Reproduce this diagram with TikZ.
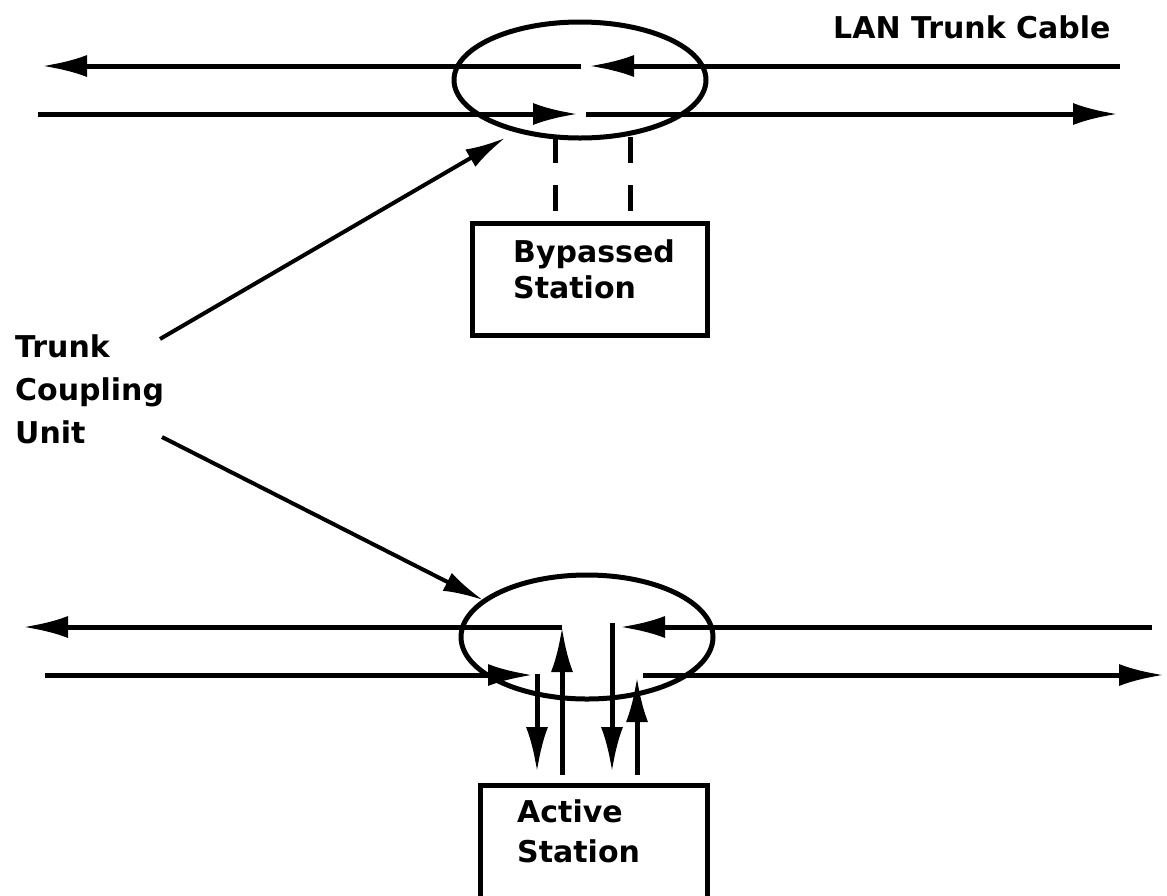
\documentclass[tikz,border=0pt]{standalone}
\usepackage{fontspec}
\setmainfont{DejaVu Sans}
\usetikzlibrary{arrows.meta,shapes.geometric}
\begin{document}
\begin{tikzpicture}[x=1pt,y=-1pt,
  wire/.style={line width=5pt},
  arr/.style={wire,-{Latex[length=45pt,width=22pt]}},
  tcu/.style={ellipse,draw,line width=5pt,inner sep=0pt,minimum width=252pt,minimum height=#1},
  stationbox/.style={draw,line width=5pt,rectangle,inner sep=0pt},
  dashwire/.style={line width=5pt,dash pattern=on 26pt off 22pt},
  lbl/.style={font=\bfseries\fontsize{30}{43}\selectfont,inner sep=0pt}
]
\useasboundingbox (0,0) rectangle (1167,895);

% ---------- top: bypassed station ----------
\node[tcu=116pt] (tcuA) at (580,80) {};
\coordinate (ulR) at (1120,66);
\coordinate (ulM) at (589,66);
\coordinate (ulMa) at (581,66);
\coordinate (ulL) at (42,66);
\coordinate (llL) at (38,114);
\coordinate (llM) at (578,114);
\coordinate (llMa) at (586,114);
\coordinate (llR) at (1118,114);
\draw[arr] (ulR) -- (ulM);
\draw[arr] (ulMa) -- (ulL);
\draw[arr] (llL) -- (llM);
\draw[arr] (llMa) -- (llR);

\node[stationbox,minimum width=235pt,minimum height=112pt] (byp) at (589.5,279) {};
\node[lbl,font=\bfseries\fontsize{30}{36}\selectfont,anchor=base west,align=left] (byptxt) at (513,298) {Bypassed\\Station};
\draw[dashwire] (555,137) -- (555,223);
\draw[dashwire] (630,137) -- (630,223);

\node[lbl,anchor=base west] (lan) at (833,38) {LAN Trunk Cable};

% ---------- label ----------
\node[lbl,anchor=west,align=left] (tcutxt) at (15,389) {Trunk\\Coupling\\Unit};
\coordinate (p1) at (160,339);
\coordinate (q1) at (505,138);
\coordinate (p2) at (162,437);
\coordinate (q2) at (483,600);
\draw[line width=4pt,-{Latex[length=40pt,width=20pt]}] (p1) -- (q1);
\draw[line width=4pt,-{Latex[length=40pt,width=20pt]}] (p2) -- (q2);

% ---------- bottom: active station ----------
\node[tcu=124pt] (tcuB) at (587,637) {};
\coordinate (uL) at (23,627);
\coordinate (uM) at (562,627);
\coordinate (uR) at (1152,627);
\coordinate (uRt) at (620,627);
\coordinate (lL) at (45,675);
\coordinate (lMt) at (533,675);
\coordinate (lRs) at (643,675);
\coordinate (lR) at (1164,675);

\draw[wire,-{Latex[length=45pt,width=22pt]}] (uM) -- (uL);
\draw[arr] (uR) -- (uRt);
\draw[arr] (lL) -- (lMt);
\draw[arr] (lRs) -- (lR);

\draw[arr] (562,775) -- (uM);
\draw[arr] (537,674) -- (537,772);
\draw[arr] (612,623) -- (612,772);
\draw[arr] (637,775) -- (637,677);

\node[stationbox,minimum width=227pt,minimum height=125pt] (act) at (593.5,847.5) {};
\node[lbl,font=\bfseries\fontsize{30}{40}\selectfont,anchor=base west,align=left] (acttxt) at (517,862) {Active\\Station};
\end{tikzpicture}
\end{document}
